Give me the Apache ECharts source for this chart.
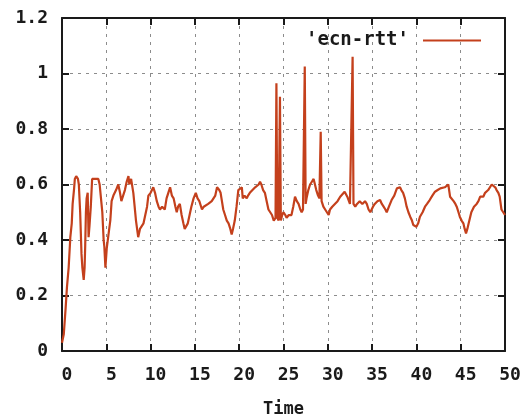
<!DOCTYPE html>
<html>
<head>
<meta charset="utf-8">
<script src="https://cdn.jsdelivr.net/npm/echarts@6/dist/echarts.min.js"></script>
<style>
  html, body { margin: 0; padding: 0; background: #fff; }
  #chart { width: 523px; height: 417px; }
</style>
</head>
<body>
<div id="chart"></div>
<script>
// ECN round-trip time samples (seconds) against elapsed time
const seriesName = "'ecn-rtt'";
const time = [
  0, 0.2, 0.4, 0.56, 0.75, 0.94, 1.1, 1.2, 1.35, 1.45, 1.6, 1.8, 1.9, 2.05, 2.2, 2.3, 2.45, 2.55, 2.62, 2.7,
  2.78, 2.9, 3.0, 3.1, 3.25, 3.4, 3.7, 4.1, 4.25, 4.4, 4.55, 4.7, 4.78, 4.9, 5.05, 5.25, 5.45, 5.6, 5.8, 6.1,
  6.35, 6.55, 6.7, 6.9, 7.1, 7.3, 7.5, 7.6, 7.8, 8.05, 8.2, 8.35, 8.6, 8.8, 9.0, 9.2, 9.4, 9.6, 9.75, 10.0,
  10.3, 10.5, 10.7, 10.9, 11.06, 11.3, 11.6, 11.8, 12.0, 12.2, 12.4, 12.6, 12.8, 12.95, 13.1, 13.3, 13.5, 13.7, 13.85, 14.0,
  14.2, 14.4, 14.6, 14.85, 15.1, 15.3, 15.5, 15.8, 16.0, 16.2, 16.5, 16.7, 16.9, 17.1, 17.3, 17.5, 17.6, 17.75, 17.9, 18.05,
  18.2, 18.4, 18.6, 18.8, 19.0, 19.15, 19.3, 19.5, 19.7, 19.9, 20.1, 20.3, 20.4, 20.6, 20.85, 21.0, 21.2, 21.5, 21.8, 22.0,
  22.2, 22.35, 22.5, 22.7, 22.9, 23.1, 23.3, 23.5, 23.7, 23.9, 24.1, 24.2, 24.3, 24.45, 24.6, 24.7, 24.85, 25.0, 25.2, 25.35,
  25.6, 25.9, 26.1, 26.3, 26.5, 26.7, 26.9, 27.05, 27.2, 27.4, 27.5, 27.6, 27.8, 28.0, 28.2, 28.4, 28.55, 28.7, 28.9, 29.05,
  29.2, 29.3, 29.5, 29.7, 29.9, 30.1, 30.25, 30.5, 30.8, 31.1, 31.4, 31.6, 31.9, 32.05, 32.2, 32.5, 32.7, 32.8, 32.9, 33.1,
  33.3, 33.6, 33.9, 34.2, 34.4, 34.6, 34.8, 34.95, 35.1, 35.3, 35.6, 35.9, 36.1, 36.3, 36.5, 36.65, 36.9, 37.2, 37.5, 37.8,
  38.0, 38.15, 38.3, 38.5, 38.7, 38.9, 39.1, 39.3, 39.5, 39.65, 39.85, 40.0, 40.2, 40.4, 40.7, 40.97, 41.2, 41.5, 41.8, 42.1,
  42.4, 42.7, 42.9, 43.2, 43.4, 43.6, 43.8, 44.0, 44.2, 44.4, 44.55, 44.75, 44.9, 45.1, 45.3, 45.45, 45.6, 45.75, 45.9, 46.05,
  46.2, 46.5, 46.8, 47.0, 47.2, 47.4, 47.55, 47.75, 47.9, 48.1, 48.3, 48.5, 48.7, 48.9, 49.05, 49.25, 49.4, 49.6, 49.8, 50.0
];
const rtt = [
  0.03, 0.06, 0.15, 0.23, 0.30, 0.41, 0.46, 0.53, 0.58, 0.62, 0.63, 0.62, 0.60, 0.50, 0.35, 0.30, 0.256, 0.30, 0.38, 0.50,
  0.55, 0.57, 0.41, 0.45, 0.52, 0.62, 0.62, 0.62, 0.60, 0.55, 0.50, 0.40, 0.376, 0.30, 0.37, 0.42, 0.47, 0.54, 0.56, 0.58,
  0.60, 0.57, 0.54, 0.56, 0.58, 0.61, 0.63, 0.60, 0.62, 0.57, 0.52, 0.47, 0.41, 0.44, 0.44, 0.46, 0.46, 0.52, 0.56, 0.57,
  0.59, 0.57, 0.54, 0.52, 0.51, 0.52, 0.51, 0.55, 0.57, 0.59, 0.56, 0.55, 0.52, 0.50, 0.52, 0.53, 0.49, 0.46, 0.44, 0.44,
  0.46, 0.49, 0.52, 0.55, 0.57, 0.55, 0.54, 0.51, 0.52, 0.52, 0.53, 0.53, 0.54, 0.55, 0.56, 0.59, 0.59, 0.58, 0.57, 0.54,
  0.51, 0.49, 0.47, 0.46, 0.44, 0.42, 0.44, 0.47, 0.52, 0.58, 0.58, 0.59, 0.55, 0.56, 0.55, 0.56, 0.57, 0.58, 0.59, 0.59,
  0.60, 0.61, 0.60, 0.58, 0.57, 0.54, 0.51, 0.51, 0.49, 0.47, 0.48, 0.965, 0.48, 0.47, 0.916, 0.47, 0.49, 0.50, 0.49, 0.48,
  0.49, 0.49, 0.52, 0.556, 0.54, 0.53, 0.51, 0.50, 0.51, 1.025, 0.53, 0.55, 0.58, 0.60, 0.61, 0.62, 0.60, 0.58, 0.56, 0.55,
  0.79, 0.54, 0.52, 0.51, 0.50, 0.49, 0.51, 0.52, 0.53, 0.54, 0.556, 0.56, 0.574, 0.57, 0.556, 0.53, 0.53, 1.06, 0.53, 0.52,
  0.53, 0.54, 0.53, 0.54, 0.53, 0.51, 0.50, 0.50, 0.52, 0.53, 0.54, 0.544, 0.53, 0.52, 0.51, 0.50, 0.52, 0.544, 0.56, 0.586,
  0.59, 0.59, 0.58, 0.57, 0.55, 0.52, 0.50, 0.484, 0.47, 0.454, 0.45, 0.448, 0.46, 0.484, 0.50, 0.52, 0.53, 0.544, 0.56, 0.574,
  0.58, 0.586, 0.58, 0.59, 0.59, 0.60, 0.556, 0.55, 0.54, 0.53, 0.52, 0.50, 0.484, 0.47, 0.46, 0.44, 0.424, 0.44, 0.46, 0.48,
  0.50, 0.52, 0.53, 0.54, 0.556, 0.55, 0.556, 0.57, 0.574, 0.58, 0.586, 0.60, 0.604, 0.59, 0.58, 0.57, 0.556, 0.51, 0.50, 0.49
];
const xAxisName = 'Time';
const xRange = [0, 50, 5];
const yRange = [0, 1.2, 0.2];

const points = time.map((t, i) => [t, rtt[i]]);

const font = 'DejaVu Sans Mono';
const ink = '#1a1a1a';
const lineColor = '#c4401c';
const gridLine = { show: true, lineStyle: { color: '#8c8c8c', width: 1, type: [3, 5] } };

function frameAxis(extra) {
  return Object.assign({
    type: 'value',
    axisLine: { show: true, onZero: false, lineStyle: { color: ink, width: 2 } },
    axisTick: { show: true, inside: true, length: 7, lineStyle: { color: ink, width: 2 } },
    splitLine: { show: false },
    axisLabel: { show: false }
  }, extra);
}

const chart = echarts.init(document.getElementById('chart'), null, { renderer: 'canvas' });
chart.setOption({
  animation: false,
  backgroundColor: '#fff',
  grid: { left: 62, right: 18, top: 18, bottom: 66, containLabel: false, outerBoundsMode: 'none' },
  legend: {
    data: [seriesName],
    right: 37,
    top: 26,
    align: 'right',
    icon: 'rect',
    itemWidth: 58,
    itemHeight: 2,
    textStyle: { fontFamily: font, fontWeight: 'bold', fontSize: 19, color: ink, padding: [0, 9, 0, 0] }
  },
  xAxis: [
    frameAxis({
      min: xRange[0], max: xRange[1], interval: xRange[2], position: 'bottom',
      splitLine: gridLine,
      axisLabel: {
        show: true, fontFamily: font, fontWeight: 'bold', fontSize: 18, color: ink,
        margin: 15, padding: [0, 0, 0, 10]
      },
      name: xAxisName, nameLocation: 'middle', nameGap: 50,
      nameTextStyle: { fontFamily: font, fontWeight: 'bold', fontSize: 17, color: ink }
    }),
    frameAxis({ min: xRange[0], max: xRange[1], interval: xRange[2], position: 'top' })
  ],
  yAxis: [
    frameAxis({
      min: yRange[0], max: yRange[1], interval: yRange[2], position: 'left',
      splitLine: gridLine,
      axisLabel: {
        show: true, fontFamily: font, fontWeight: 'bold', fontSize: 18, color: ink, margin: 14,
        formatter: v => String(+v.toFixed(1))
      }
    }),
    frameAxis({ min: yRange[0], max: yRange[1], interval: yRange[2], position: 'right' })
  ],
  series: [{
    name: seriesName,
    type: 'line',
    data: points,
    showSymbol: false,
    symbol: 'none',
    color: lineColor,
    lineStyle: { color: lineColor, width: 2.2 }
  }]
});
</script>
</body>
</html>
